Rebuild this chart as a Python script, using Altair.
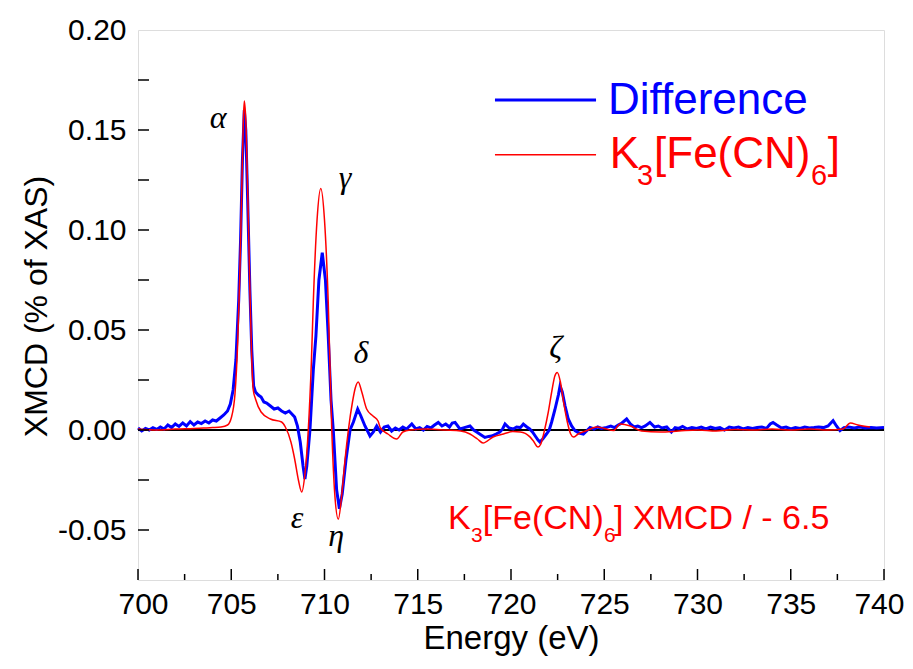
import altair as alt
import pandas as pd

# ---------------- data ----------------
red_energy = [700.0, 701.0, 702.0, 703.0, 703.5, 704.0, 704.45, 704.8, 705.0, 705.2, 705.35,
              705.45, 705.55, 705.65, 705.7, 705.78, 705.88, 706.0, 706.1, 706.18, 706.3, 706.6,
              707.1, 707.7, 707.9, 708.2, 708.4, 708.6, 708.78, 708.95, 709.13, 709.3, 709.4,
              709.6, 709.8, 710.0, 710.2, 710.39, 710.55, 710.74, 710.95, 711.1, 711.28, 711.5,
              711.65, 711.81, 712.0, 712.26, 712.6, 712.87, 713.0, 713.4, 713.87, 714.2, 714.6,
              715.5, 716.5, 717.3, 717.8, 718.2, 718.5, 719.04, 719.6, 720.1, 720.5, 721.0,
              721.2, 721.45, 721.6, 721.8, 722.0, 722.2, 722.35, 722.48, 722.65, 722.8, 723.02,
              723.2, 723.35, 723.6, 724.06, 724.6, 725.0, 725.5, 725.85, 726.4, 727.0, 728.0,
              729.0, 730.0, 731.0, 732.0, 733.0, 734.0, 735.0, 736.0, 737.0, 737.8, 738.2,
              738.6, 739.25]
red_value = [0.0005, 0.0, 0.0005, 0.0008, 0.001, 0.0012, 0.0015, 0.0025, 0.006, 0.018, 0.045,
             0.075, 0.115, 0.155, 0.1645, 0.155, 0.12, 0.07, 0.035, 0.020, 0.0155, 0.009,
             0.0055, 0.004, 0.0015, -0.006, -0.0145, -0.025, -0.031, -0.022, 0.0, 0.035, 0.064,
             0.105, 0.1208, 0.105, 0.064, 0.0, -0.032, -0.0446, -0.030, -0.015, 0.0, 0.014,
             0.021, 0.024, 0.019, 0.0105, 0.007, 0.0045, 0.001, -0.002, -0.0045, -0.001, 0.0,
             0.0005, 0.0, -0.0005, -0.002, -0.0045, -0.0065, -0.0035, -0.002, -0.0008, -0.001, -0.0033,
             -0.0055, -0.0085, -0.007, 0.0, 0.009, 0.020, 0.027, 0.0288, 0.024, 0.015, 0.004,
             -0.002, -0.0035, -0.002, -0.0003, 0.0015, 0.0008, -0.0003, 0.003, 0.002, -0.0005, -0.001,
             -0.0005, 0.0, -0.0005, 0.0003, 0.0, 0.0005, 0.0, 0.0005, 0.0, 0.0005, 0.0035,
             0.0025, 0.0015]

blue_energy = [700.0, 700.2, 700.4, 700.6, 700.8, 701.0, 701.2, 701.4, 701.6, 701.8, 702.0,
               702.2, 702.4, 702.6, 702.8, 703.0, 703.2, 703.4, 703.6, 703.8, 704.0, 704.2,
               704.4, 704.6, 704.8, 704.95, 705.1, 705.25, 705.4, 705.5, 705.6, 705.7, 705.78,
               705.88, 706.0, 706.1, 706.2, 706.3, 706.45, 706.6, 706.75, 706.9, 707.1, 707.3,
               707.5, 707.7, 707.9, 708.1, 708.25, 708.4, 708.55, 708.7, 708.85, 708.95, 709.05,
               709.22, 709.4, 709.54, 709.7, 709.88, 710.05, 710.2, 710.35, 710.47, 710.65, 710.8,
               710.95, 711.15, 711.37, 711.55, 711.78, 711.95, 712.17, 712.44, 712.62, 712.8, 713.0,
               713.2, 713.4, 713.6, 713.8, 714.0, 714.2, 714.4, 714.68, 714.9, 715.1, 715.3,
               715.5, 715.7, 715.9, 716.1, 716.3, 716.5, 716.7, 716.85, 717.0, 717.26, 717.5,
               717.8, 718.0, 718.16, 718.4, 718.6, 718.8, 718.96, 719.2, 719.4, 719.55, 719.68,
               719.9, 720.12, 720.3, 720.5, 720.66, 720.85, 721.0, 721.15, 721.3, 721.45, 721.55,
               721.7, 721.9, 722.05, 722.18, 722.35, 722.54, 722.63, 722.75, 722.9, 723.07, 723.25,
               723.43, 723.65, 723.88, 724.05, 724.24, 724.45, 724.65, 724.85, 725.13, 725.35, 725.55,
               725.75, 725.95, 726.2, 726.4, 726.6, 726.8, 727.0, 727.2, 727.45, 727.7, 727.9,
               728.1, 728.35, 728.6, 728.8, 729.0, 729.2, 729.45, 729.7, 729.95, 730.2, 730.45,
               730.7, 730.95, 731.2, 731.45, 731.7, 731.95, 732.2, 732.45, 732.7, 732.95, 733.2,
               733.45, 733.7, 733.9, 734.05, 734.25, 734.5, 734.75, 735.0, 735.25, 735.5, 735.75,
               736.0, 736.25, 736.5, 736.75, 737.0, 737.15, 737.27, 737.45, 737.64, 737.85, 738.1,
               738.4, 738.7, 739.0, 739.3, 739.6, 740.0]
blue_value = [0.001, -0.0005, 0.0008, 0.0, 0.0012, 0.0003, 0.0015, 0.0005, 0.0025, 0.0012, 0.003,
              0.0018, 0.0035, 0.002, 0.0042, 0.0025, 0.004, 0.0032, 0.0045, 0.0035, 0.005, 0.0045,
              0.006, 0.0075, 0.0095, 0.013, 0.020, 0.035, 0.065, 0.095, 0.135, 0.160, 0.150,
              0.115, 0.07, 0.04, 0.022, 0.019, 0.0175, 0.0165, 0.014, 0.0135, 0.012, 0.0105,
              0.011, 0.0095, 0.0085, 0.0095, 0.008, 0.0065, 0.002, -0.006, -0.018, -0.0245, -0.018,
              0.0, 0.030, 0.047, 0.075, 0.0887, 0.075, 0.047, 0.015, 0.0, -0.030, -0.0394,
              -0.032, -0.015, 0.0, 0.004, 0.0105, 0.007, 0.002, -0.003, -0.001, 0.002, -0.001,
              0.0015, 0.002, -0.0005, 0.001, 0.0, 0.0015, 0.0005, 0.003, 0.0005, 0.0012, 0.0,
              0.0018, 0.001, 0.0025, 0.0038, 0.002, 0.003, 0.0015, 0.0035, 0.0038, 0.0005, 0.0012,
              0.002, 0.0, -0.001, -0.0025, -0.0037, -0.0032, -0.003, -0.002, -0.001, 0.0005, 0.003,
              0.001, 0.0005, 0.0015, 0.0012, 0.003, 0.0015, 0.0005, -0.001, -0.003, -0.005, -0.006,
              -0.0045, -0.002, 0.0, 0.004, 0.010, 0.0175, 0.022, 0.019, 0.012, 0.0055, 0.002,
              -0.0003, -0.0015, -0.002, -0.0005, 0.0013, 0.0005, 0.0015, 0.0008, 0.0013, 0.002, 0.0012,
              0.0025, 0.0035, 0.0055, 0.003, 0.0015, 0.002, 0.0012, 0.002, 0.0038, 0.0015, 0.002,
              0.001, 0.0015, -0.001, 0.0012, 0.0008, 0.0018, 0.0005, 0.0012, 0.0008, 0.0015, 0.0005,
              0.0015, 0.0008, 0.0012, 0.0, 0.0015, 0.001, 0.0015, 0.0005, 0.0012, 0.0008, 0.0012,
              0.0015, 0.0008, 0.003, 0.0038, 0.0025, 0.001, 0.0015, 0.0005, 0.0012, 0.0008, 0.0015,
              0.001, 0.0012, 0.0015, 0.0012, 0.002, 0.0035, 0.0047, 0.002, -0.0003, 0.0012, 0.0015,
              0.001, 0.0015, 0.001, 0.0012, 0.001, 0.0012]

x_major_ticks = [700, 705, 710, 715, 720, 725, 730, 735, 740]
x_minor_ticks = [702.5, 707.5, 712.5, 717.5, 722.5, 727.5, 732.5, 737.5]
y_label_ticks = [-0.05, 0.0, 0.05, 0.10, 0.15, 0.20]
y_all_ticks = [-0.05, -0.025, 0.0, 0.025, 0.05, 0.075, 0.10, 0.125, 0.15, 0.175]

greek_text = ["α", "γ", "δ", "ε", "η", "ζ"]
greek_energy = [704.3, 711.1, 711.96, 708.53, 710.62, 722.4]
greek_value = [0.156, 0.126, 0.0384, -0.0439, -0.053, 0.041]

# legend entries (position in data units)
legend_line_energy = [719.14, 724.56]
legend_blue_value = 0.165
legend_red_value = 0.1376

# ---------------- chart ----------------
W, H = 746, 550
BLUE = "#0000FF"
RED = "#FF0000"

xscale = alt.Scale(domain=[700, 740], nice=False, zero=False)
yscale = alt.Scale(domain=[-0.075, 0.20], nice=False, zero=False)

xaxis = alt.Axis(values=x_major_ticks, format="d", title="Energy (eV)", grid=False,
                 ticks=False, domain=False, labelFont="Liberation Sans", labelFontSize=30,
                 labelColor="black", labelPadding=9, labelFlush=1, labelFlushOffset=20,
                 labelOverlap=False,
                 titleFont="Liberation Sans", titleFontSize=33, titleFontWeight="normal",
                 titleColor="black", titleY=68, titleBaseline="alphabetic")
yaxis = alt.Axis(values=y_label_ticks, format=".2f", title="XMCD (% of XAS)", grid=False,
                 labelExpr="replace(datum.label, '\u2212', '-')",
                 ticks=False, domain=False, labelFont="Liberation Sans", labelFontSize=30,
                 labelColor="black", labelPadding=12, labelFlush=False, labelOverlap=False,
                 titleFont="Liberation Sans", titleFontSize=32, titleFontWeight="normal",
                 titleColor="black", titleX=-102, titleY=276, titleBaseline="middle",
                 titleAngle=270, titleAlign="center")

X = alt.X("E:Q", scale=xscale, axis=xaxis)
Y = alt.Y("V:Q", scale=yscale, axis=yaxis)

blue_df = pd.DataFrame({"E": blue_energy, "V": blue_value})
red_df = pd.DataFrame({"E": red_energy, "V": red_value})

zero_df = pd.DataFrame({"E": [700, 740], "V": [0.0, 0.0]})
zero_line = alt.Chart(zero_df).mark_line(color="black", strokeWidth=2).encode(x=X, y=Y)

blue_line = alt.Chart(blue_df).mark_line(color=BLUE, strokeWidth=3).encode(x=X, y=Y)
red_line = alt.Chart(red_df).mark_line(color=RED, strokeWidth=1.5,
                                       interpolate="monotone").encode(x=X, y=Y)

xmaj = alt.Chart(pd.DataFrame({"E": x_major_ticks})).mark_rule(color="black", strokeWidth=1.5).encode(
    x=X, y=alt.value(H), y2=alt.value(H - 11))
xmin = alt.Chart(pd.DataFrame({"E": x_minor_ticks})).mark_rule(color="black", strokeWidth=1.5).encode(
    x=X, y=alt.value(H), y2=alt.value(H - 6))
yt = alt.Chart(pd.DataFrame({"V": y_all_ticks})).mark_rule(color="black", strokeWidth=1.5).encode(
    y=Y, x=alt.value(0), x2=alt.value(11))

greek = alt.Chart(pd.DataFrame({"E": greek_energy, "V": greek_value, "t": greek_text})).mark_text(
    font="Liberation Serif", fontStyle="italic", fontSize=32, color="black",
    align="center", baseline="middle").encode(x=X, y=Y, text="t:N")

leg_blue = alt.Chart(pd.DataFrame({"E": legend_line_energy, "V": [legend_blue_value] * 2})).mark_line(
    color=BLUE, strokeWidth=3).encode(x=X, y=Y)
leg_red = alt.Chart(pd.DataFrame({"E": legend_line_energy, "V": [legend_red_value] * 2})).mark_line(
    color=RED, strokeWidth=1.5).encode(x=X, y=Y)


def text_layer(energies, values, texts, size, color):
    df = pd.DataFrame({"E": energies, "V": values, "t": texts})
    return alt.Chart(df).mark_text(font="Liberation Sans", fontSize=size, color=color,
                                   align="left", baseline="middle").encode(x=X, y=Y, text="t:N")


leg_main = text_layer([725.2], [0.1645], ["Difference"], 44, BLUE)
leg_red_main = text_layer([725.29, 727.67, 736.99], [0.1376, 0.1376, 0.1376],
                          ["K", "[Fe(CN)", "]"], 44, RED)
leg_red_sub = text_layer([726.76, 736.09], [0.1271, 0.1271], ["3", "6"], 29, RED)

ann_main = text_layer([716.62, 718.49, 725.52], [-0.0444, -0.0444, -0.0444],
                      ["K", "[Fe(CN)", "] XMCD / - 6.5"], 34, RED)
ann_sub = text_layer([717.86, 724.99], [-0.0530, -0.0530], ["3", "6"], 21, RED)

chart = alt.layer(
    zero_line, blue_line, red_line, xmaj, xmin, yt, greek,
    leg_blue, leg_red, leg_main, leg_red_main, leg_red_sub, ann_main, ann_sub
).properties(
    width=W, height=H, autosize="none",
    padding={"left": 130, "top": 22, "right": 21, "bottom": 76}
).configure_view(stroke="black", strokeWidth=2).configure(background="white")

chart.save("out.html", embed_options={"renderer": "svg", "actions": False})
